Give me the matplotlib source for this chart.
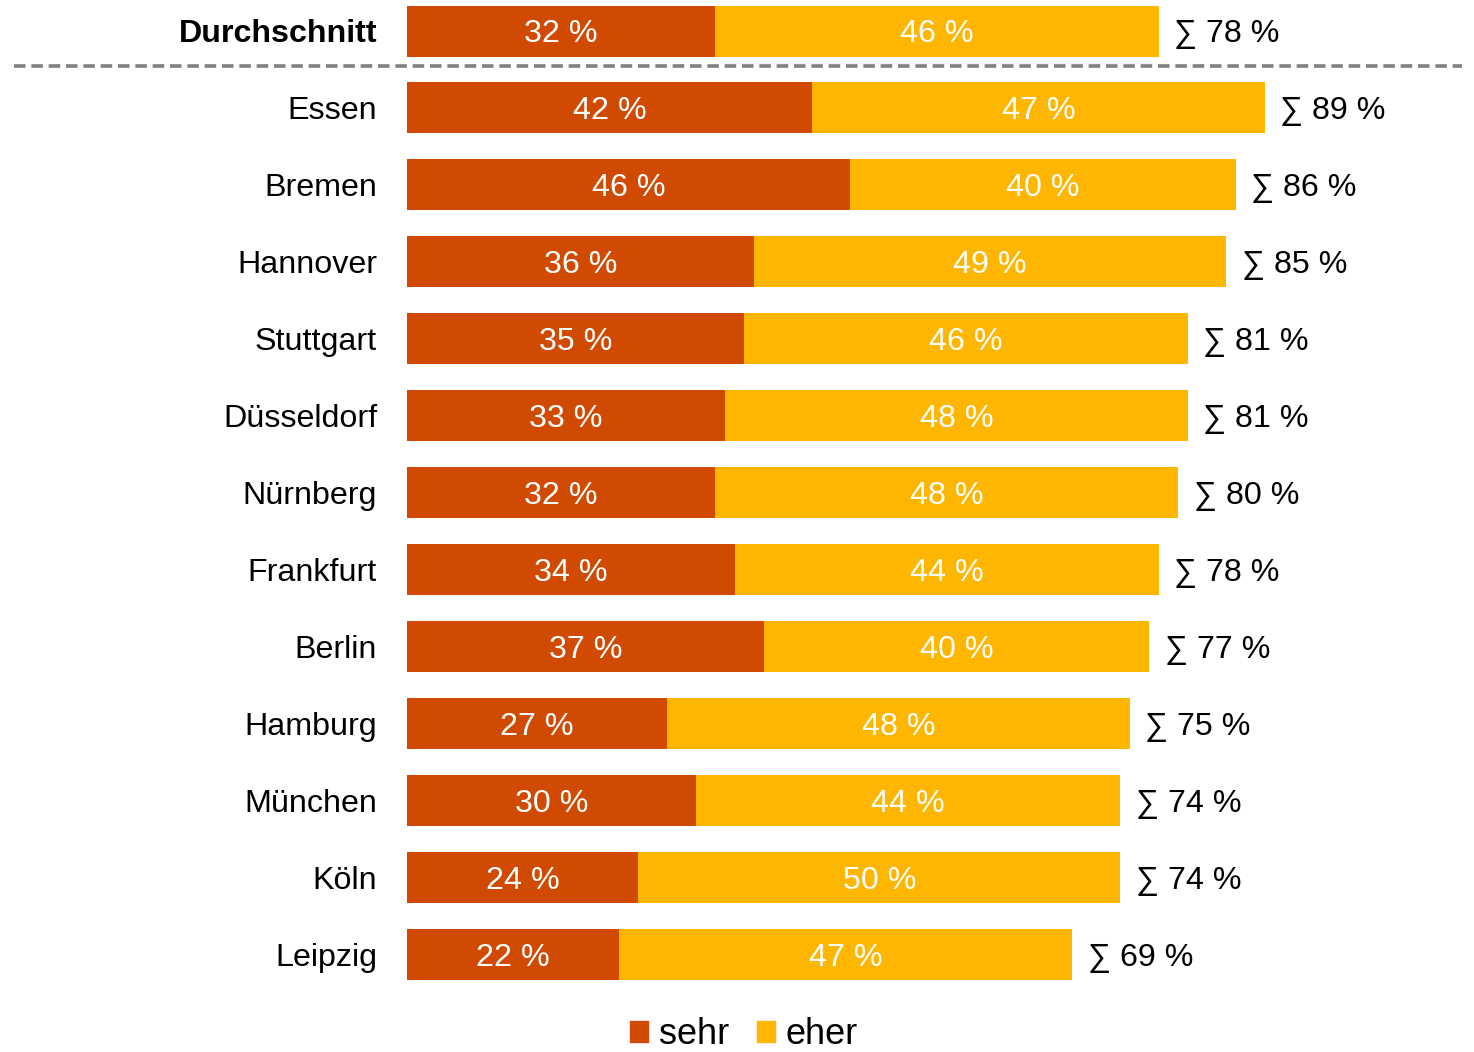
"""
Gestapeltes Balkendiagramm: sehr / eher nach Stadt.
"""
import matplotlib
matplotlib.use("Agg")
import matplotlib.pyplot as plt
from matplotlib.patches import Patch
import matplotlib.transforms as mtransforms

plt.rcParams['font.family'] = ['Liberation Sans', 'DejaVu Sans']

cities = ["Durchschnitt", "Essen", "Bremen", "Hannover", "Stuttgart", "Düsseldorf",
          "Nürnberg", "Frankfurt", "Berlin", "Hamburg", "München", "Köln", "Leipzig"]
sehr = [32, 42, 46, 36, 35, 33, 32, 34, 37, 27, 30, 24, 22]
eher = [46, 47, 40, 49, 46, 48, 48, 44, 40, 48, 44, 50, 47]
totals = [78, 89, 86, 85, 81, 81, 80, 78, 77, 75, 74, 74, 69]

c_sehr = "#D04A02"
c_eher = "#FFB600"

W, H = 1474, 1052
fig = plt.figure(figsize=(W / 100, H / 100), dpi=100)
# bars start at x=407px, 100 % = 964px
ax = fig.add_axes([407 / W, 0, 964 / W, 1])
ax.set_xlim(0, 100)
ax.set_ylim((H - 31) / 77, -31 / 77)
ax.axis("off")

ypos = list(range(len(cities)))
bh = 51 / 77
ax.barh(ypos, sehr, height=bh, color=c_sehr, linewidth=0)
ax.barh(ypos, eher, left=sehr, height=bh, color=c_eher, linewidth=0)

fs = 23.2
dy = 0.045  # text sits a little below bar centre
for y, name, s, e, t in zip(ypos, cities, sehr, eher, totals):
    ty = y + dy
    ax.text(s / 2, ty, f"{s} %", ha="center", va="center", color="white", fontsize=fs)
    ax.text(s + e / 2, ty, f"{e} %", ha="center", va="center", color="white", fontsize=fs)
    ax.text(t + 1.6, ty, f"∑ {t} %", ha="left", va="center", color="black", fontsize=fs)
    ax.text(-3.1, ty, name, ha="right", va="center", color="black", fontsize=fs,
            fontweight="bold" if y == 0 else "normal")

# dashed separator below the average
trans = mtransforms.blended_transform_factory(fig.transFigure, ax.transData)
ax.plot([14 / W, 1462 / W], [35 / 77, 35 / 77], transform=trans, color="#808080",
        lw=2.6, ls=(0, (3.2, 1.6)), clip_on=False)

handles = [Patch(color=c_sehr, label="sehr"), Patch(color=c_eher, label="eher")]
fig.legend(handles=handles, loc="center", bbox_to_anchor=(744 / W, 1 - 1035 / H),
           ncol=2, frameon=False, fontsize=26, handlelength=0.5, handleheight=0.5,
           handletextpad=0.3, columnspacing=0.75, borderaxespad=0, borderpad=0.2)

fig.savefig("out.png", dpi=100)
